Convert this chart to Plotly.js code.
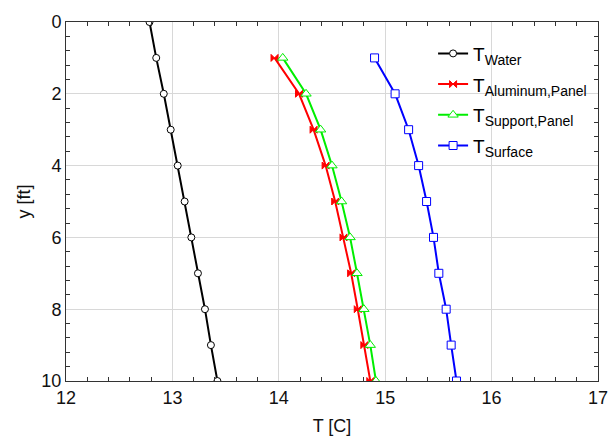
<!DOCTYPE html>
<html>
<head>
<meta charset="utf-8">
<script src="https://cdn.plot.ly/plotly-3.0.1.min.js"></script>
<style>html,body{margin:0;padding:0;background:#fff}#chart{width:608px;height:439px}</style>
</head>
<body>
<div id="chart"></div>
<script>
var depthWater = [0,1,2,3,4,5,6,7,8,9,10];
var tWater = [12.785,12.848,12.919,12.984,13.05,13.115,13.178,13.24,13.306,13.362,13.423];
var depthPanel = [1,2,3,4,5,6,7,8,9,10];
var tAluminum = [13.96,14.19,14.327,14.44,14.53,14.608,14.68,14.742,14.804,14.86];
var tSupport = [14.037,14.256,14.393,14.50,14.59,14.67,14.735,14.80,14.86,14.913];
var tSurface = [14.90,15.093,15.22,15.314,15.389,15.454,15.504,15.573,15.62,15.67];
var subNames = ['Water','Aluminum,Panel','Support,Panel','Surface'];
var names = subNames.map(function(s){ return 'T<sub><span style="font-size:14px">' + s + '</span></sub>'; });

var traces = [
  {x:tWater, y:depthWater, name:names[0], mode:'lines+markers', legendgroup:'a',
   line:{color:'#000000', width:2},
   marker:{symbol:'circle', size:7, color:'#ffffff', line:{color:'#000000', width:1}}},
  {x:tAluminum, y:depthPanel, name:names[1], mode:'lines+markers', legendgroup:'b',
   line:{color:'#ff0000', width:2},
   marker:{symbol:'bowtie', size:7, color:'#ff0000', line:{color:'#ff0000', width:1}}},
  {x:tSupport, y:depthPanel, name:names[2], mode:'lines+markers', legendgroup:'c',
   line:{color:'#00ee00', width:2},
   marker:{symbol:'triangle-up', size:9, color:'#ffffff', line:{color:'#00ee00', width:1}}},
  {x:tSurface, y:depthPanel, name:names[3], mode:'lines+markers', legendgroup:'d',
   line:{color:'#0000ff', width:2},
   marker:{symbol:'square', size:8, color:'#ffffff', line:{color:'#0000ff', width:1}}}
];

var fontFam = 'Liberation Sans, Arial, sans-serif';
var axisCommon = {
  showline:true, linecolor:'#333333', linewidth:1, mirror:'ticks',
  showgrid:true, gridcolor:'#d8d8d8', gridwidth:1, zeroline:false,
  ticks:'inside', ticklen:0, tickcolor:'#333333', ticklabeloverflow:'allow',
  tickfont:{family:fontFam, size:18, color:'#111111'}
};

var layout = {
  width:608, height:439,
  margin:{l:66, r:10, t:22, b:58},
  paper_bgcolor:'#ffffff', plot_bgcolor:'#ffffff',
  showlegend:true,
  legend:{x:0.69, y:0.965, xanchor:'left', yanchor:'top', bgcolor:'rgba(255,255,255,0)',
    borderwidth:0, tracegroupgap:3,
    font:{family:fontFam, size:19, color:'#000000'}},
  xaxis:Object.assign({}, axisCommon, {
    range:[12,17], dtick:1, tick0:12,
    minor:{dtick:0.2, ticks:'inside', ticklen:4, tickcolor:'#333333', showgrid:false},
    title:{text:'T [C]', font:{family:fontFam, size:18, color:'#111111'}, standoff:12}
  }),
  yaxis:Object.assign({}, axisCommon, {
    range:[10,0], dtick:2, tick0:0,
    minor:{dtick:0.4, ticks:'inside', ticklen:4, tickcolor:'#333333', showgrid:false},
    title:{text:'y [ft]', font:{family:fontFam, size:18, color:'#111111'}, standoff:6}
  })
};

Plotly.newPlot('chart', traces, layout, {displayModeBar:false, staticPlot:true});
</script>
</body>
</html>
